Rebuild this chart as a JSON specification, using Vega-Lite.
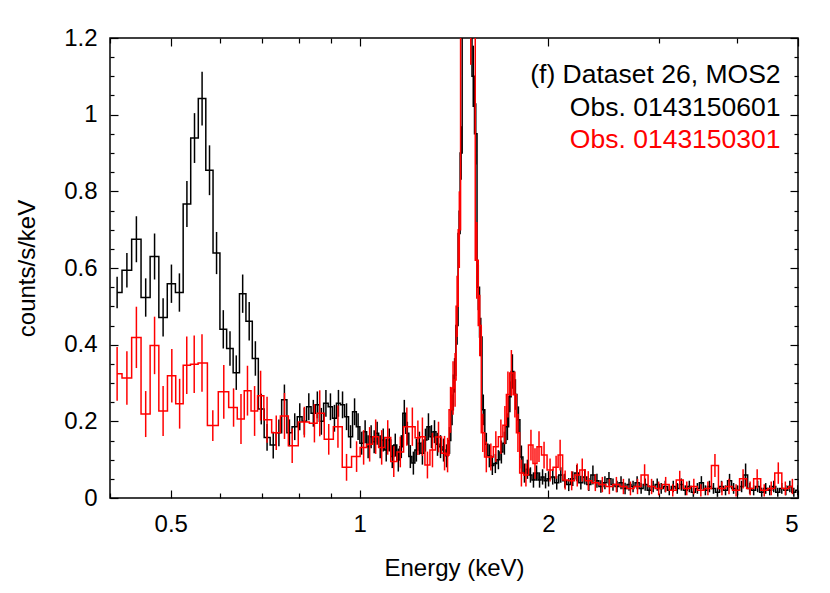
{
  "$schema": "https://vega.github.io/schema/vega-lite/v6.json",
  "width": 688,
  "height": 460,
  "autosize": {"type": "none"},
  "padding": {"left": 110, "top": 38, "right": 32, "bottom": 95},
  "background": "white",
  "config": {
    "view": {"stroke": "black", "strokeWidth": 1.5},
    "axis": {
      "domain": false, "grid": false, "tickColor": "black", "tickWidth": 1.2,
      "labelFont": "Liberation Sans", "labelFontSize": 24, "labelColor": "black",
      "titleFont": "Liberation Sans", "titleFontSize": 24, "titleFontWeight": "normal", "titleColor": "black"
    }
  },
  "datasets": {
    "black": [
      {"E":0.4106,"rate":0.536,"err":0.041},{"E":0.4256,"rate":0.594,"err":0.045},{"E":0.4407,"rate":0.675,"err":0.06},
      {"E":0.4560,"rate":0.523,"err":0.05},{"E":0.4711,"rate":0.630,"err":0.06},{"E":0.4861,"rate":0.471,"err":0.05},
      {"E":0.5012,"rate":0.559,"err":0.05},{"E":0.5161,"rate":0.536,"err":0.05},{"E":0.5305,"rate":0.767,"err":0.06},
      {"E":0.5455,"rate":0.939,"err":0.065},{"E":0.5609,"rate":1.042,"err":0.07},{"E":0.5764,"rate":0.855,"err":0.065},
      {"E":0.5915,"rate":0.639,"err":0.055},{"E":0.6063,"rate":0.440,"err":0.05},{"E":0.6214,"rate":0.390,"err":0.045},
      {"E":0.6359,"rate":0.327,"err":0.045},{"E":0.6510,"rate":0.533,"err":0.05},{"E":0.6668,"rate":0.461,"err":0.05},
      {"E":0.6821,"rate":0.364,"err":0.045},{"E":0.6970,"rate":0.232,"err":0.04},{"E":0.7120,"rate":0.158,"err":0.035},
      {"E":0.7283,"rate":0.138,"err":0.035},{"E":0.7436,"rate":0.170,"err":0.035},{"E":0.7588,"rate":0.256,"err":0.04},
      {"E":0.7729,"rate":0.170,"err":0.035},{"E":0.7881,"rate":0.186,"err":0.035},{"E":0.8028,"rate":0.212,"err":0.035},
      {"E":0.8164,"rate":0.200,"err":0.035},{"E":0.8299,"rate":0.238,"err":0.035},{"E":0.8438,"rate":0.221,"err":0.035},
      {"E":0.8563,"rate":0.243,"err":0.035},{"E":0.8690,"rate":0.200,"err":0.035},{"E":0.8837,"rate":0.247,"err":0.035},
      {"E":0.8985,"rate":0.238,"err":0.035},{"E":0.9118,"rate":0.208,"err":0.035},{"E":0.9253,"rate":0.247,"err":0.035},
      {"E":0.9393,"rate":0.243,"err":0.035},{"E":0.9532,"rate":0.212,"err":0.035},{"E":0.9674,"rate":0.160,"err":0.03},
      {"E":0.9817,"rate":0.225,"err":0.035},{"E":0.9945,"rate":0.186,"err":0.035},{"E":1.0074,"rate":0.143,"err":0.03},
      {"E":1.0205,"rate":0.173,"err":0.03},{"E":1.0318,"rate":0.134,"err":0.03},{"E":1.0433,"rate":0.160,"err":0.03},
      {"E":1.0550,"rate":0.147,"err":0.03},{"E":1.0666,"rate":0.169,"err":0.03},{"E":1.0786,"rate":0.134,"err":0.03},
      {"E":1.0906,"rate":0.151,"err":0.03},{"E":1.1027,"rate":0.125,"err":0.03},{"E":1.1150,"rate":0.151,"err":0.03},
      {"E":1.1274,"rate":0.108,"err":0.03},{"E":1.1399,"rate":0.138,"err":0.03},{"E":1.1527,"rate":0.099,"err":0.03},
      {"E":1.1655,"rate":0.134,"err":0.03},{"E":1.1784,"rate":0.221,"err":0.035},{"E":1.1916,"rate":0.169,"err":0.03},
      {"E":1.2048,"rate":0.108,"err":0.03},{"E":1.2183,"rate":0.091,"err":0.03},{"E":1.2318,"rate":0.125,"err":0.03},
      {"E":1.2455,"rate":0.143,"err":0.03},{"E":1.2593,"rate":0.117,"err":0.03},{"E":1.2735,"rate":0.151,"err":0.03},
      {"E":1.2876,"rate":0.186,"err":0.035},{"E":1.3019,"rate":0.160,"err":0.03},{"E":1.3165,"rate":0.173,"err":0.03},
      {"E":1.3311,"rate":0.140,"err":0.03},{"E":1.3459,"rate":0.134,"err":0.03},{"E":1.3610,"rate":0.125,"err":0.03},
      {"E":1.3761,"rate":0.110,"err":0.03},{"E":1.3914,"rate":0.150,"err":0.035},{"E":1.4043,"rate":0.230,"err":0.04},
      {"E":1.4173,"rate":0.320,"err":0.045},{"E":1.4304,"rate":0.450,"err":0.05},{"E":1.4410,"rate":0.690,"err":0.06},
      {"E":1.4518,"rate":0.900,"err":0.07},{"E":1.4627,"rate":1.500,"err":0.09},{"E":1.4763,"rate":2.000,"err":0.1},
      {"E":1.4900,"rate":2.000,"err":0.1},{"E":1.5039,"rate":1.600,"err":0.09},{"E":1.5178,"rate":1.100,"err":0.08},
      {"E":1.5319,"rate":0.950,"err":0.08},{"E":1.5461,"rate":0.550,"err":0.06},{"E":1.5604,"rate":0.420,"err":0.05},
      {"E":1.5748,"rate":0.230,"err":0.04},{"E":1.5924,"rate":0.140,"err":0.03},{"E":1.6101,"rate":0.110,"err":0.03},
      {"E":1.6280,"rate":0.085,"err":0.025},{"E":1.6460,"rate":0.090,"err":0.025},{"E":1.6646,"rate":0.100,"err":0.025},
      {"E":1.6829,"rate":0.120,"err":0.03},{"E":1.7016,"rate":0.143,"err":0.03},{"E":1.7205,"rate":0.186,"err":0.035},
      {"E":1.7364,"rate":0.264,"err":0.04},{"E":1.7524,"rate":0.330,"err":0.045},{"E":1.7719,"rate":0.270,"err":0.04},
      {"E":1.7916,"rate":0.204,"err":0.035},{"E":1.8113,"rate":0.107,"err":0.03},{"E":1.8315,"rate":0.065,"err":0.025},
      {"E":1.8519,"rate":0.075,"err":0.025},{"E":1.8724,"rate":0.060,"err":0.02},{"E":1.8933,"rate":0.047,"err":0.02},
      {"E":1.9147,"rate":0.065,"err":0.02},{"E":1.9360,"rate":0.047,"err":0.02},{"E":1.9575,"rate":0.055,"err":0.02},
      {"E":1.9793,"rate":0.045,"err":0.02},{"E":2.0012,"rate":0.050,"err":0.02},
      {"E":2.032,"rate":0.055,"err":0.02},{"E":2.062,"rate":0.040,"err":0.018},{"E":2.093,"rate":0.060,"err":0.02},
      {"E":2.124,"rate":0.045,"err":0.018},{"E":2.155,"rate":0.035,"err":0.017},{"E":2.187,"rate":0.050,"err":0.019},
      {"E":2.220,"rate":0.065,"err":0.021},{"E":2.253,"rate":0.040,"err":0.018},{"E":2.286,"rate":0.055,"err":0.02},
      {"E":2.320,"rate":0.035,"err":0.017},{"E":2.355,"rate":0.060,"err":0.025},{"E":2.390,"rate":0.045,"err":0.018},
      {"E":2.425,"rate":0.030,"err":0.016},{"E":2.461,"rate":0.040,"err":0.017},{"E":2.498,"rate":0.050,"err":0.018},
      {"E":2.535,"rate":0.035,"err":0.016},{"E":2.573,"rate":0.030,"err":0.015},{"E":2.611,"rate":0.040,"err":0.017},
      {"E":2.650,"rate":0.025,"err":0.015},{"E":2.689,"rate":0.035,"err":0.016},{"E":2.729,"rate":0.030,"err":0.015},
      {"E":2.770,"rate":0.040,"err":0.017},{"E":2.811,"rate":0.025,"err":0.014},{"E":2.853,"rate":0.035,"err":0.016},
      {"E":2.895,"rate":0.020,"err":0.013},{"E":2.938,"rate":0.030,"err":0.015},{"E":2.982,"rate":0.035,"err":0.016},
      {"E":3.026,"rate":0.025,"err":0.014},{"E":3.071,"rate":0.030,"err":0.015},{"E":3.117,"rate":0.020,"err":0.013},
      {"E":3.163,"rate":0.030,"err":0.015},{"E":3.210,"rate":0.025,"err":0.014},{"E":3.258,"rate":0.035,"err":0.016},
      {"E":3.306,"rate":0.020,"err":0.013},{"E":3.355,"rate":0.030,"err":0.015},{"E":3.405,"rate":0.015,"err":0.012},
      {"E":3.456,"rate":0.025,"err":0.014},{"E":3.507,"rate":0.040,"err":0.017},{"E":3.559,"rate":0.020,"err":0.013},
      {"E":3.612,"rate":0.030,"err":0.015},{"E":3.666,"rate":0.025,"err":0.014},{"E":3.720,"rate":0.015,"err":0.012},
      {"E":3.776,"rate":0.030,"err":0.015},{"E":3.832,"rate":0.020,"err":0.013},{"E":3.889,"rate":0.045,"err":0.018},
      {"E":3.947,"rate":0.025,"err":0.014},{"E":4.005,"rate":0.020,"err":0.013},{"E":4.065,"rate":0.030,"err":0.015},
      {"E":4.125,"rate":0.060,"err":0.03},{"E":4.187,"rate":0.025,"err":0.014},{"E":4.249,"rate":0.020,"err":0.013},
      {"E":4.312,"rate":0.030,"err":0.015},{"E":4.376,"rate":0.015,"err":0.012},{"E":4.441,"rate":0.025,"err":0.014},
      {"E":4.507,"rate":0.020,"err":0.013},{"E":4.574,"rate":0.030,"err":0.015},{"E":4.642,"rate":0.015,"err":0.012},
      {"E":4.711,"rate":0.025,"err":0.014},{"E":4.781,"rate":0.020,"err":0.013},{"E":4.852,"rate":0.030,"err":0.015},
      {"E":4.924,"rate":0.015,"err":0.012},{"E":4.995,"rate":0.020,"err":0.013}
    ],
    "red": [
      {"E":0.4106,"rate":0.324,"err":0.07},{"E":0.4256,"rate":0.313,"err":0.07},{"E":0.4407,"rate":0.419,"err":0.08},
      {"E":0.4560,"rate":0.219,"err":0.06},{"E":0.4711,"rate":0.398,"err":0.075},{"E":0.4861,"rate":0.227,"err":0.065},
      {"E":0.5019,"rate":0.319,"err":0.07},{"E":0.5165,"rate":0.246,"err":0.065},{"E":0.5302,"rate":0.346,"err":0.075},
      {"E":0.5449,"rate":0.349,"err":0.075},{"E":0.5607,"rate":0.352,"err":0.075},{"E":0.5834,"rate":0.189,"err":0.04},
      {"E":0.6074,"rate":0.277,"err":0.07},{"E":0.6296,"rate":0.236,"err":0.05},{"E":0.6470,"rate":0.206,"err":0.065},
      {"E":0.6626,"rate":0.280,"err":0.065},{"E":0.6801,"rate":0.227,"err":0.065},{"E":0.6953,"rate":0.267,"err":0.065},
      {"E":0.7120,"rate":0.204,"err":0.06},{"E":0.7364,"rate":0.170,"err":0.045},{"E":0.7590,"rate":0.214,"err":0.06},
      {"E":0.7808,"rate":0.136,"err":0.045},{"E":0.8164,"rate":0.198,"err":0.04},{"E":0.8472,"rate":0.195,"err":0.05},
      {"E":0.8639,"rate":0.221,"err":0.06},{"E":0.8929,"rate":0.153,"err":0.04},{"E":0.9236,"rate":0.186,"err":0.055},
      {"E":0.9532,"rate":0.080,"err":0.035},{"E":0.9890,"rate":0.108,"err":0.04},{"E":1.0149,"rate":0.132,"err":0.045},
      {"E":1.0375,"rate":0.140,"err":0.045},{"E":1.0608,"rate":0.160,"err":0.045},{"E":1.0844,"rate":0.132,"err":0.045},
      {"E":1.1088,"rate":0.158,"err":0.045},{"E":1.1337,"rate":0.095,"err":0.04},{"E":1.1612,"rate":0.120,"err":0.04},
      {"E":1.1894,"rate":0.186,"err":0.05},{"E":1.2137,"rate":0.186,"err":0.05},{"E":1.2386,"rate":0.157,"err":0.045},
      {"E":1.2593,"rate":0.160,"err":0.05},{"E":1.2828,"rate":0.086,"err":0.035},{"E":1.3067,"rate":0.125,"err":0.045},
      {"E":1.3360,"rate":0.159,"err":0.04},{"E":1.3660,"rate":0.117,"err":0.045},{"E":1.3812,"rate":0.112,"err":0.045},
      {"E":1.3964,"rate":0.230,"err":0.06},{"E":1.4093,"rate":0.287,"err":0.07},{"E":1.4198,"rate":0.308,"err":0.07},
      {"E":1.4304,"rate":0.500,"err":0.08},{"E":1.4421,"rate":0.700,"err":0.1},{"E":1.4555,"rate":1.300,"err":0.1},
      {"E":1.4706,"rate":2.200,"err":0.15},{"E":1.4872,"rate":2.400,"err":0.15},{"E":1.5039,"rate":1.300,"err":0.17},
      {"E":1.5206,"rate":1.700,"err":0.15},{"E":1.5374,"rate":0.620,"err":0.1},{"E":1.5545,"rate":0.450,"err":0.08},
      {"E":1.5719,"rate":0.170,"err":0.05},{"E":1.5924,"rate":0.107,"err":0.04},{"E":1.6191,"rate":0.107,"err":0.035},
      {"E":1.6490,"rate":0.134,"err":0.04},{"E":1.6798,"rate":0.160,"err":0.045},{"E":1.7047,"rate":0.190,"err":0.05},
      {"E":1.7237,"rate":0.270,"err":0.06},{"E":1.7458,"rate":0.326,"err":0.06},{"E":1.7686,"rate":0.270,"err":0.06},
      {"E":1.7883,"rate":0.170,"err":0.05},{"E":1.8113,"rate":0.065,"err":0.035},{"E":1.8416,"rate":0.060,"err":0.03},
      {"E":1.8759,"rate":0.138,"err":0.04},{"E":1.9039,"rate":0.090,"err":0.04},{"E":1.9322,"rate":0.134,"err":0.04},
      {"E":1.9683,"rate":0.112,"err":0.035},{"E":2.0123,"rate":0.073,"err":0.03},{"E":2.0573,"rate":0.080,"err":0.03},
      {"E":2.0879,"rate":0.112,"err":0.04},{"E":2.1268,"rate":0.047,"err":0.025},{"E":2.1785,"rate":0.045,"err":0.025},
      {"E":2.2233,"rate":0.060,"err":0.03},{"E":2.2646,"rate":0.073,"err":0.03},{"E":2.3153,"rate":0.045,"err":0.025},
      {"E":2.376,"rate":0.040,"err":0.022},{"E":2.438,"rate":0.035,"err":0.02},{"E":2.502,"rate":0.030,"err":0.02},
      {"E":2.567,"rate":0.035,"err":0.02},{"E":2.634,"rate":0.030,"err":0.02},{"E":2.703,"rate":0.025,"err":0.018},
      {"E":2.774,"rate":0.030,"err":0.02},{"E":2.847,"rate":0.060,"err":0.028},{"E":2.921,"rate":0.030,"err":0.02},
      {"E":2.998,"rate":0.025,"err":0.018},{"E":3.076,"rate":0.035,"err":0.02},{"E":3.157,"rate":0.020,"err":0.016},
      {"E":3.239,"rate":0.047,"err":0.024},{"E":3.324,"rate":0.025,"err":0.018},{"E":3.411,"rate":0.030,"err":0.02},
      {"E":3.500,"rate":0.020,"err":0.016},{"E":3.592,"rate":0.025,"err":0.018},{"E":3.686,"rate":0.085,"err":0.03},
      {"E":3.782,"rate":0.025,"err":0.018},{"E":3.881,"rate":0.030,"err":0.02},{"E":3.983,"rate":0.020,"err":0.016},
      {"E":4.087,"rate":0.050,"err":0.025},{"E":4.194,"rate":0.025,"err":0.018},{"E":4.304,"rate":0.050,"err":0.025},
      {"E":4.417,"rate":0.020,"err":0.016},{"E":4.532,"rate":0.025,"err":0.018},{"E":4.651,"rate":0.065,"err":0.028},
      {"E":4.773,"rate":0.025,"err":0.018},{"E":4.898,"rate":0.030,"err":0.02}
    ]
  },
  "resolve": {"axis": {"x": "independent", "y": "independent"}},
  "layer": [
    {
      "data": {"name": "black"},
      "mark": {"type": "line", "interpolate": "step", "color": "black", "strokeWidth": 1.5, "clip": true},
      "encoding": {
        "x": {"field": "E", "type": "quantitative", "scale": {"type": "log", "domain": [0.4, 5], "nice": false},
          "axis": {"orient": "bottom", "values": [0.5, 1, 2, 5], "format": "~g", "tickSize": -8, "labelPadding": 22, "title": "Energy (keV)", "titlePadding": 20}},
        "y": {"field": "rate", "type": "quantitative", "scale": {"domain": [0, 1.2], "nice": false, "zero": false},
          "axis": {"orient": "left", "values": [0, 0.2, 0.4, 0.6, 0.8, 1, 1.2], "format": "~g", "tickSize": -8, "labelPadding": 21, "title": "counts/s/keV", "titlePadding": 24}}
      }
    },
    {
      "data": {"name": "black"},
      "mark": {"type": "errorbar", "color": "black", "thickness": 1.5, "clip": true},
      "encoding": {
        "x": {"field": "E", "type": "quantitative",
          "axis": {"orient": "bottom", "values": [0.4, 0.6, 0.7, 0.8, 0.9, 3, 4], "labels": false, "tickSize": -5, "title": null}},
        "y": {"field": "rate", "type": "quantitative",
          "axis": {"orient": "left", "values": [0.05, 0.1, 0.15, 0.25, 0.3, 0.35, 0.45, 0.5, 0.55, 0.65, 0.7, 0.75, 0.85, 0.9, 0.95, 1.05, 1.1, 1.15], "labels": false, "tickSize": -4, "title": null}},
        "yError": {"field": "err"}
      }
    },
    {
      "data": {"name": "red"},
      "mark": {"type": "line", "interpolate": "step", "color": "#ff0000", "strokeWidth": 1.5, "clip": true},
      "encoding": {
        "x": {"field": "E", "type": "quantitative",
          "axis": {"orient": "top", "values": [0.5, 1, 2, 5], "labels": false, "tickSize": -8, "title": null}},
        "y": {"field": "rate", "type": "quantitative",
          "axis": {"orient": "right", "values": [0, 0.2, 0.4, 0.6, 0.8, 1, 1.2], "labels": false, "tickSize": -8, "title": null}}
      }
    },
    {
      "data": {"name": "red"},
      "mark": {"type": "errorbar", "color": "#ff0000", "thickness": 1.5, "clip": true},
      "encoding": {
        "x": {"field": "E", "type": "quantitative",
          "axis": {"orient": "top", "values": [0.4, 0.6, 0.7, 0.8, 0.9, 3, 4], "labels": false, "tickSize": -5, "title": null}},
        "y": {"field": "rate", "type": "quantitative",
          "axis": {"orient": "right", "values": [0.05, 0.1, 0.15, 0.25, 0.3, 0.35, 0.45, 0.5, 0.55, 0.65, 0.7, 0.75, 0.85, 0.9, 0.95, 1.05, 1.1, 1.15], "labels": false, "tickSize": -4, "title": null}},
        "yError": {"field": "err"}
      }
    },
    {
      "data": {"values": [{}]},
      "mark": {"type": "text", "text": "(f) Dataset 26, MOS2", "align": "right", "baseline": "middle", "font": "Liberation Sans", "fontSize": 26.5, "color": "black"},
      "encoding": {"x": {"datum": 4.69, "type": "quantitative", "axis": null}, "y": {"datum": 1.104, "type": "quantitative", "axis": null}}
    },
    {
      "data": {"values": [{}]},
      "mark": {"type": "text", "text": "Obs. 0143150601", "align": "right", "baseline": "middle", "font": "Liberation Sans", "fontSize": 26.5, "color": "black"},
      "encoding": {"x": {"datum": 4.69, "type": "quantitative", "axis": null}, "y": {"datum": 1.018, "type": "quantitative", "axis": null}}
    },
    {
      "data": {"values": [{}]},
      "mark": {"type": "text", "text": "Obs. 0143150301", "align": "right", "baseline": "middle", "font": "Liberation Sans", "fontSize": 26.5, "color": "#ff0000"},
      "encoding": {"x": {"datum": 4.69, "type": "quantitative", "axis": null}, "y": {"datum": 0.935, "type": "quantitative", "axis": null}}
    }
  ]
}
